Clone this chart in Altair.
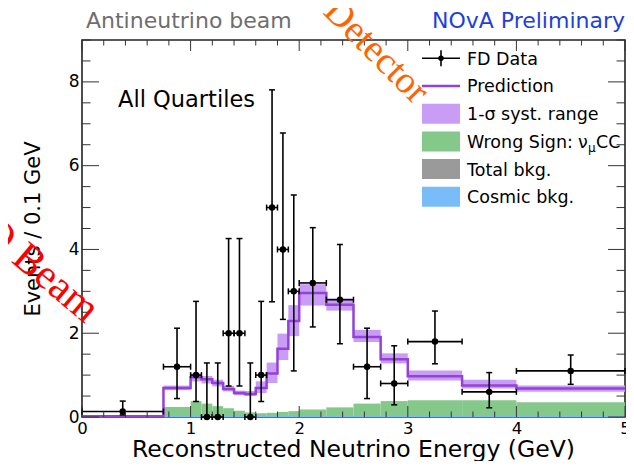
import altair as alt
import numpy as np
import pandas as pd

# ---------------- data ----------------
edges = [0.0, 0.75, 1.0, 1.1, 1.2, 1.3, 1.4, 1.5, 1.6, 1.7, 1.8, 1.9, 2.0,
         2.25, 2.5, 2.75, 3.0, 3.5, 4.0, 5.0]
data_val = [0.13, 1.2, 1.0, 0.0, 0.0, 2.0, 2.0, 0.0, 1.0, 5.0, 4.0, 3.0,
            3.2, 2.8, 1.2, 0.8, 1.8, 0.6, 1.1]
data_lo = [0.05, 0.44, 0.37, 0.0, 0.0, 0.74, 0.74, 0.0, 0.37, 2.75, 2.33, 1.10,
           2.15, 1.75, 0.44, 0.29, 1.27, 0.22, 0.78]
data_hi = [0.38, 2.12, 2.76, 1.29, 1.29, 4.26, 4.26, 1.29, 2.76, 7.81, 6.78, 5.30,
           4.52, 4.12, 2.12, 1.70, 2.53, 1.06, 1.48]
prediction = [0.02, 0.69, 0.95, 0.90, 0.81, 0.67, 0.57, 0.55, 0.69, 1.04, 1.63, 2.29,
              2.96, 2.68, 1.91, 1.38, 0.97, 0.75, 0.68]
band_lo = [0.0, 0.64, 0.85, 0.80, 0.73, 0.61, 0.52, 0.50, 0.57, 0.81, 1.36, 1.93,
           2.66, 2.54, 1.79, 1.28, 0.87, 0.68, 0.60]
band_hi = [0.04, 0.75, 1.04, 0.98, 0.89, 0.74, 0.63, 0.62, 0.85, 1.30, 1.99, 2.67,
           3.17, 2.83, 2.08, 1.52, 1.11, 0.89, 0.75]
wrong_sign = [0.0, 0.24, 0.38, 0.32, 0.26, 0.21, 0.15, 0.11, 0.09, 0.10, 0.12, 0.14,
              0.18, 0.23, 0.32, 0.38, 0.40, 0.40, 0.35]
cosmic = [0.0, 0.01, 0.01, 0.01, 0.01, 0.01, 0.01, 0.01, 0.01, 0.01, 0.01, 0.01,
          0.01, 0.01, 0.01, 0.01, 0.01, 0.01, 0.01]

x_labels = [0, 1, 2, 3, 4, 5]
y_labels = [0, 2, 4, 6, 8]
legend_labels = ["FD Data", "Prediction", "1-\u03c3 syst. range", "Wrong Sign:",
                 "Total bkg.", "Cosmic bkg."]
x_title = "Reconstructed Neutrino Energy (GeV)"
y_title = "Events / 0.1 GeV"

# ---------------- style ----------------
FONT = "DejaVu Sans"
PURPLE = "#9441d6"
BAND = "#c99cf6"
GREEN = "#84c98a"
GRAY = "#9a9a9a"
BLUE = "#78bdf8"
X0, Y0 = 82, 40          # plot origin on the page
W, H = 543, 377
SVG_W, SVG_H = 618, 453


def px(x):
    return x - X0


def py(y):
    return y - Y0


one = pd.DataFrame({"k": [0]})

xs = alt.Scale(domain=[0, 5], nice=False, zero=False)
ys = alt.Scale(domain=[0, 9], nice=False, zero=False)
xaxis = alt.Axis(values=x_labels, ticks=False, domain=False, grid=False,
                 labelFont=FONT, labelFontSize=16.5, labelColor="black",
                 labelPadding=3, labelFlush=False, labelOverlap=False, format="d",
                 title=None)
yaxis = alt.Axis(values=y_labels, ticks=False, domain=False, grid=False,
                 labelFont=FONT, labelFontSize=17, labelColor="black",
                 labelPadding=3, labelFlush=False, labelOverlap=False, format="d",
                 title=None)


def X(f):
    return alt.X(f, type="quantitative", scale=xs, axis=xaxis)


def Y(f):
    return alt.Y(f, type="quantitative", scale=ys, axis=yaxis)


bins = pd.DataFrame({
    "lo": edges[:-1], "hi": edges[1:], "data": data_val, "dlo": data_lo,
    "dhi": data_hi, "pred": prediction, "blo": band_lo, "bhi": band_hi,
    "ws": wrong_sign,
})
bins["xc"] = (bins["lo"] + bins["hi"]) / 2
bins["zero"] = 0.0

step_pred = pd.DataFrame({"x": edges, "y": prediction + [prediction[-1]]})
step_cos = pd.DataFrame({"x": edges[1:], "y": cosmic[1:] + [cosmic[-1]]})

layers = []
layers.append(alt.Chart(bins).mark_rect(color=GREEN).encode(
    x=X("lo"), x2="hi", y=Y("zero"), y2="ws"))
layers.append(alt.Chart(step_cos).mark_line(color=BLUE, strokeWidth=1.5,
                                            interpolate="step-after").encode(
    x=X("x"), y=Y("y")))
layers.append(alt.Chart(bins).mark_rect(color=BAND).encode(
    x=X("lo"), x2="hi", y=Y("blo"), y2="bhi"))
layers.append(alt.Chart(step_pred).mark_line(color=PURPLE, strokeWidth=2.5,
                                             interpolate="step-after").encode(
    x=X("x"), y=Y("y")))
# data error bars
layers.append(alt.Chart(bins).mark_rule(color="black", strokeWidth=1.6).encode(
    x=X("xc"), y=Y("dlo"), y2="dhi"))
layers.append(alt.Chart(bins).mark_rule(color="black", strokeWidth=1.6).encode(
    x=X("lo"), x2="hi", y=Y("data")))
for f in ["dlo", "dhi"]:
    layers.append(alt.Chart(bins).mark_tick(orient="horizontal", size=6,
                                            thickness=1.5, color="black",
                                            opacity=1).encode(
        x=X("xc"), y=Y(f)))
for f in ["lo", "hi"]:
    layers.append(alt.Chart(bins).mark_tick(orient="vertical", size=6,
                                            thickness=1.5, color="black",
                                            opacity=1).encode(
        x=X(f), y=Y("data")))
layers.append(alt.Chart(bins).mark_circle(size=42, color="black", opacity=1).encode(
    x=X("xc"), y=Y("data")))

# ---------------- inward ROOT-style ticks ----------------
TICK = "#333333"
x_major = pd.DataFrame({"t": [float(v) for v in x_labels]})
x_minor = pd.DataFrame({"t": [round(v, 2) for v in np.arange(0, 5.001, 0.2)
                              if abs(v - round(v)) > 1e-6]})
y_major = pd.DataFrame({"t": [float(v) for v in y_labels]})
y_minor = pd.DataFrame({"t": [v for v in np.arange(0, 9.001, 0.5)
                              if v not in y_labels]})
for df, ln in [(x_major, 11), (x_minor, 5.5)]:
    layers.append(alt.Chart(df).mark_rule(color=TICK, strokeWidth=1).encode(
        x=X("t"), y=alt.value(H), y2=alt.value(H - ln)))
    layers.append(alt.Chart(df).mark_rule(color=TICK, strokeWidth=1).encode(
        x=X("t"), y=alt.value(0), y2=alt.value(ln)))
for df, ln in [(y_major, 17), (y_minor, 8.5)]:
    layers.append(alt.Chart(df).mark_rule(color=TICK, strokeWidth=1).encode(
        y=Y("t"), x=alt.value(0), x2=alt.value(ln)))
    layers.append(alt.Chart(df).mark_rule(color=TICK, strokeWidth=1).encode(
        y=Y("t"), x=alt.value(W), x2=alt.value(W - ln)))


def txt(s, x, y, size, color="black", font=FONT, angle=0, align="left"):
    kw = dict(text=s, fontSize=size, font=font, color=color, align=align,
              baseline="alphabetic")
    if angle:
        kw["angle"] = angle
    return alt.Chart(one).mark_text(**kw).encode(x=alt.value(px(x)),
                                                 y=alt.value(py(y)))


def box(x0, x1, y0, y1, color):
    return alt.Chart(one).mark_rect(color=color).encode(
        x=alt.value(px(x0)), x2=alt.value(px(x1)),
        y=alt.value(py(y0)), y2=alt.value(py(y1)))


def seg(x0, x1, y0, y1, color, w):
    return alt.Chart(one).mark_rule(color=color, strokeWidth=w).encode(
        x=alt.value(px(x0)), x2=alt.value(px(x1)),
        y=alt.value(py(y0)), y2=alt.value(py(y1)))


# ---------------- axis titles / annotations ----------------
layers.append(txt(x_title, 353.5, 456.5, 23.5, align="center"))
layers.append(txt(y_title, 40, 229, 21, align="center", angle=270))
layers.append(txt("Antineutrino beam", 86, 28, 22, color="#6e6e6e"))
layers.append(txt("NOvA Preliminary", 625, 28, 22, color="#1f3fdc", align="right"))
layers.append(txt("All Quartiles", 118, 107, 22.5))

# ---------------- legend ----------------
rows = [58.3 + i * 27.7 for i in range(len(legend_labels))]
SX0, SX1 = 422, 460
layers.append(seg(SX0, SX1, rows[0], rows[0], "black", 1.6))
layers.append(seg(441, 441, rows[0] - 8, rows[0] + 8, "black", 1.6))
layers.append(alt.Chart(one).mark_circle(size=30, color="black", opacity=1).encode(
    x=alt.value(px(441)), y=alt.value(py(rows[0]))))
layers.append(seg(SX0, SX1, rows[1], rows[1], PURPLE, 2.5))
for r, c in zip(rows[2:], [BAND, GREEN, GRAY, BLUE]):
    layers.append(box(SX0, SX1, r - 10, r + 10, c))
for i, lab in enumerate(legend_labels):
    layers.append(txt(lab, 467, rows[i] + 6.4, 17.5))
layers.append(txt("\u03bd", 578, rows[3] + 6.4, 17.5))
layers.append(txt("\u03bc", 588, rows[3] + 10.5, 12))
layers.append(txt("CC", 596, rows[3] + 6.4, 17.5))

# ---------------- slide overlay texts ----------------
layers.append(txt("Detector", 322, 13, 38, color="#ff6400",
                  font="Liberation Serif", angle=45))
layers.append(txt("FD Beam", -39, 220, 42, color="#ff0000",
                  font="Liberation Serif", angle=40))

chart = alt.layer(*layers).properties(
    width=W, height=H,
    autosize=alt.AutoSizeParams(type="none"),
    padding={"left": X0 - 8, "top": Y0 - 8,
             "right": SVG_W - (X0 - 8) - W,
             "bottom": SVG_H - (Y0 - 8) - H},
).configure_view(stroke="#222222", strokeWidth=1.6)

chart.save("out.html", embed_options={"renderer": "svg", "actions": False})
